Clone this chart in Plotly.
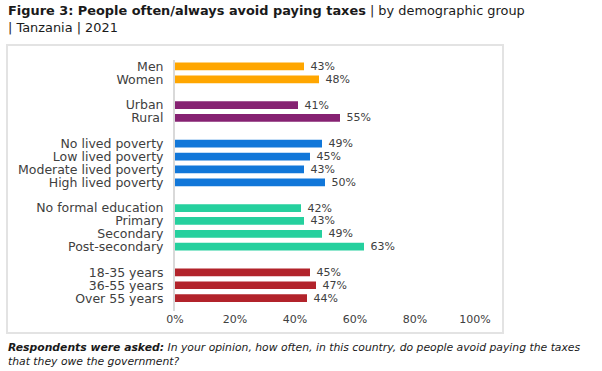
import plotly.graph_objects as go

# ---- data ----
gender_labels = ["Men", "Women"]
gender_values = [43, 48]
location_labels = ["Urban", "Rural"]
location_values = [41, 55]
poverty_labels = ["No lived poverty", "Low lived poverty", "Moderate lived poverty", "High lived poverty"]
poverty_values = [49, 45, 43, 50]
education_labels = ["No formal education", "Primary", "Secondary", "Post-secondary"]
education_values = [42, 43, 49, 63]
age_labels = ["18-35 years", "36-55 years", "Over 55 years"]
age_values = [45, 47, 44]
x_tick_values = [0, 20, 40, 60, 80, 100]
x_tick_labels = ["0%", "20%", "40%", "60%", "80%", "100%"]

groups = [
    (gender_labels, gender_values, "#FFA600"),
    (location_labels, location_values, "#862272"),
    (poverty_labels, poverty_values, "#1177D9"),
    (education_labels, education_values, "#25D09E"),
    (age_labels, age_values, "#B2232B"),
]

FONT = "DejaVu Sans"
fig = go.Figure()
tickvals, ticktext = [], []
pos = 0
for labels, values, color in groups:
    ys = list(range(pos, pos + len(labels)))
    fig.add_trace(go.Bar(
        x=values, y=ys, orientation="h",
        marker=dict(color=color, line=dict(width=0)),
        width=0.6,
        text=[f"\u00a0{v}%" for v in values], textposition="outside",
        constraintext="none",
        textfont=dict(family=FONT, size=11, color="#404040"),
        cliponaxis=False, showlegend=False, hoverinfo="skip",
    ))
    tickvals += ys
    ticktext += labels
    pos += len(labels) + 1

W, H = 602, 371
L, R, T, B = 175, 475, 60, 311
def px(x): return (x - L) / (R - L)
def py(y): return (B - y) / (B - T)

fig.update_layout(
    width=W, height=H,
    margin=dict(l=L, r=W - R, t=T, b=H - B, pad=0),
    paper_bgcolor="white", plot_bgcolor="white",
    font=dict(family=FONT, size=12, color="#404040"),
    xaxis=dict(
        range=[0, 100], tickvals=x_tick_values, ticktext=x_tick_labels,
        showgrid=False, zeroline=False, showline=False,
        tickfont=dict(family=FONT, size=11, color="#404040"),
        ticks="", fixedrange=True, automargin=False,
    ),
    yaxis=dict(
        range=[pos - 1, -0.5],
        tickvals=tickvals, ticktext=ticktext,
        showgrid=False, zeroline=False,
        showline=True, linecolor="#d9d9d9", linewidth=2,
        tickfont=dict(family=FONT, size=12.5, color="#404040"),
        ticks="outside", ticklen=7, tickcolor="rgba(0,0,0,0)",
        fixedrange=True, automargin=False,
    ),
    shapes=[dict(
        type="rect", xref="paper", yref="paper",
        x0=px(7), x1=px(503), y0=py(333), y1=py(45),
        line=dict(color="#e3e3e3", width=2), fillcolor="rgba(0,0,0,0)",
        layer="below",
    )],
    annotations=[
        dict(
            xref="paper", yref="paper", x=px(6), y=py(1),
            xanchor="left", yanchor="top", align="left", showarrow=False,
            text="<b>Figure 3: People often/always avoid paying taxes</b> | by demographic group<br>| Tanzania | 2021",
            font=dict(family=FONT, size=12.9, color="#1a1a1a"),
        ),
        dict(
            xref="paper", yref="paper", x=px(6), y=py(339),
            xanchor="left", yanchor="top", align="left", showarrow=False,
            text="<b><i>Respondents were asked:</i></b><i> In your opinion, how often, in this country, do people avoid paying the taxes<br>that they owe the government?</i>",
            font=dict(family=FONT, size=10.8, color="#1a1a1a"),
        ),
    ],
)

fig.write_html("out.html", config={"displayModeBar": False, "staticPlot": True},
               post_script="document.body.style.margin='0px';")
